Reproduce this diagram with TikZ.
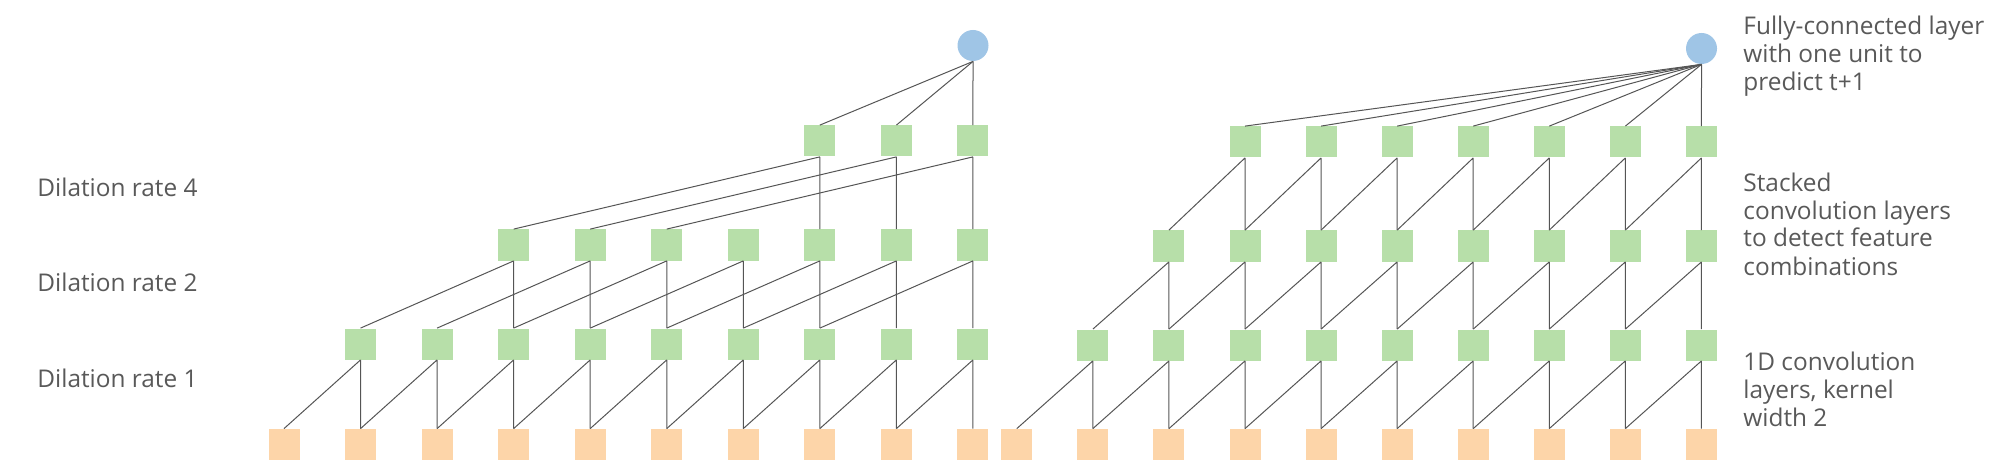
\documentclass[tikz,border=0pt]{standalone}
\usepackage{fontspec}
\setmainfont{Open Sans}
\usepackage{xcolor}
\usepackage{tikz}
\usetikzlibrary{positioning}
\definecolor{unitgreen}{HTML}{B7DFA9}
\definecolor{unitorange}{HTML}{FDD5A9}
\definecolor{unitblue}{HTML}{9FC5E6}
\definecolor{labelgray}{HTML}{595959}
\definecolor{wiregray}{HTML}{555555}

\begin{document}
\begin{tikzpicture}[
  x=0.5pt, y=-0.5pt,
  every node/.style={font=\fontsize{12.2}{14}\selectfont, text=labelgray},
  inunit/.style={fill=unitorange, minimum size=15.5pt, inner sep=0pt},
  convunit/.style={fill=unitgreen, minimum size=15.5pt, inner sep=0pt},
  outunit/.style={circle, fill=unitblue, minimum size=15.5pt, inner sep=0pt},
  wire/.style={draw=wiregray, line width=0.5pt},
  layerlabel/.style={anchor=base west, align=left, inner sep=0pt}
]
  \useasboundingbox (0,0) rectangle (1990,470);

  % Left net: dilated convolutions, columns at x = 284 + 76.55 i
  \foreach \i in {0,...,9} \node[inunit] (lin\i) at (284+76.55*\i, 444.5) {};
  \foreach \i in {1,...,9} \node[convunit] (la\i) at (284+76.55*\i, 344) {};
  \foreach \i in {3,...,9} \node[convunit] (lb\i) at (284+76.55*\i, 245) {};
  \foreach \i in {7,...,9} \node[convunit] (lc\i) at (284+76.55*\i, 141) {};
  \node[outunit] (lout) at (973, 45.5) {};

  % Left wires (dilation 1, 2, 4)
  \foreach \i in {1,...,9} {
    \pgfmathtruncatemacro{\j}{\i-1}
    \draw[wire] (la\i.south) -- (lin\i.north) (la\i.south) -- (lin\j.north);
  }
  \foreach \i in {3,...,9} {
    \pgfmathtruncatemacro{\j}{\i-2}
    \draw[wire] (lb\i.south) -- (la\i.north) (lb\i.south) -- (la\j.north);
  }
  \foreach \i in {7,...,9} {
    \pgfmathtruncatemacro{\j}{\i-4}
    \draw[wire] (lc\i.south) -- (lb\i.north) (lc\i.south) -- (lb\j.north);
    \draw[wire] (lout.south) -- (lc\i.north);
  }

  % Right net: stacked convolutions, columns at x = 1016.8 + 76.07 i
  \foreach \i in {0,...,9} \node[inunit] (rin\i) at (1016.8+76.07*\i, 444.5) {};
  \foreach \i in {1,...,9} \node[convunit] (ra\i) at (1016.8+76.07*\i, 345) {};
  \foreach \i in {2,...,9} \node[convunit] (rb\i) at (1016.8+76.07*\i, 246) {};
  \foreach \i in {3,...,9} \node[convunit] (rc\i) at (1016.8+76.07*\i, 142) {};
  \node[outunit] (rout) at (1701.5, 48.5) {};

  % Right wires (kernel width 2 everywhere)
  \foreach \i in {1,...,9} {
    \pgfmathtruncatemacro{\j}{\i-1}
    \draw[wire] (ra\i.south) -- (rin\i.north) (ra\i.south) -- (rin\j.north);
  }
  \foreach \i in {2,...,9} {
    \pgfmathtruncatemacro{\j}{\i-1}
    \draw[wire] (rb\i.south) -- (ra\i.north) (rb\i.south) -- (ra\j.north);
  }
  \foreach \i in {3,...,9} {
    \pgfmathtruncatemacro{\j}{\i-1}
    \draw[wire] (rc\i.south) -- (rb\i.north) (rc\i.south) -- (rb\j.north);
    \draw[wire] (rout.south) -- (rc\i.north);
  }

  % Labels (multi-line ones sit on the baseline of their last line)
  \node[layerlabel] (rate4) at (37, 197) {Dilation rate 4};
  \node[layerlabel] (rate2) at (37, 292) {Dilation rate 2};
  \node[layerlabel] (rate1) at (37, 387) {Dilation rate 1};
  \node[layerlabel] (fclabel) at (1743, 91) {Fully-connected layer\\with one unit to\\predict t+1};
  \node[layerlabel] (stacklabel) at (1743, 275) {Stacked\\convolution layers\\to detect feature\\combinations};
  \node[layerlabel] (convlabel) at (1743, 426) {1D convolution\\layers, kernel\\width 2};

\end{tikzpicture}
\end{document}
